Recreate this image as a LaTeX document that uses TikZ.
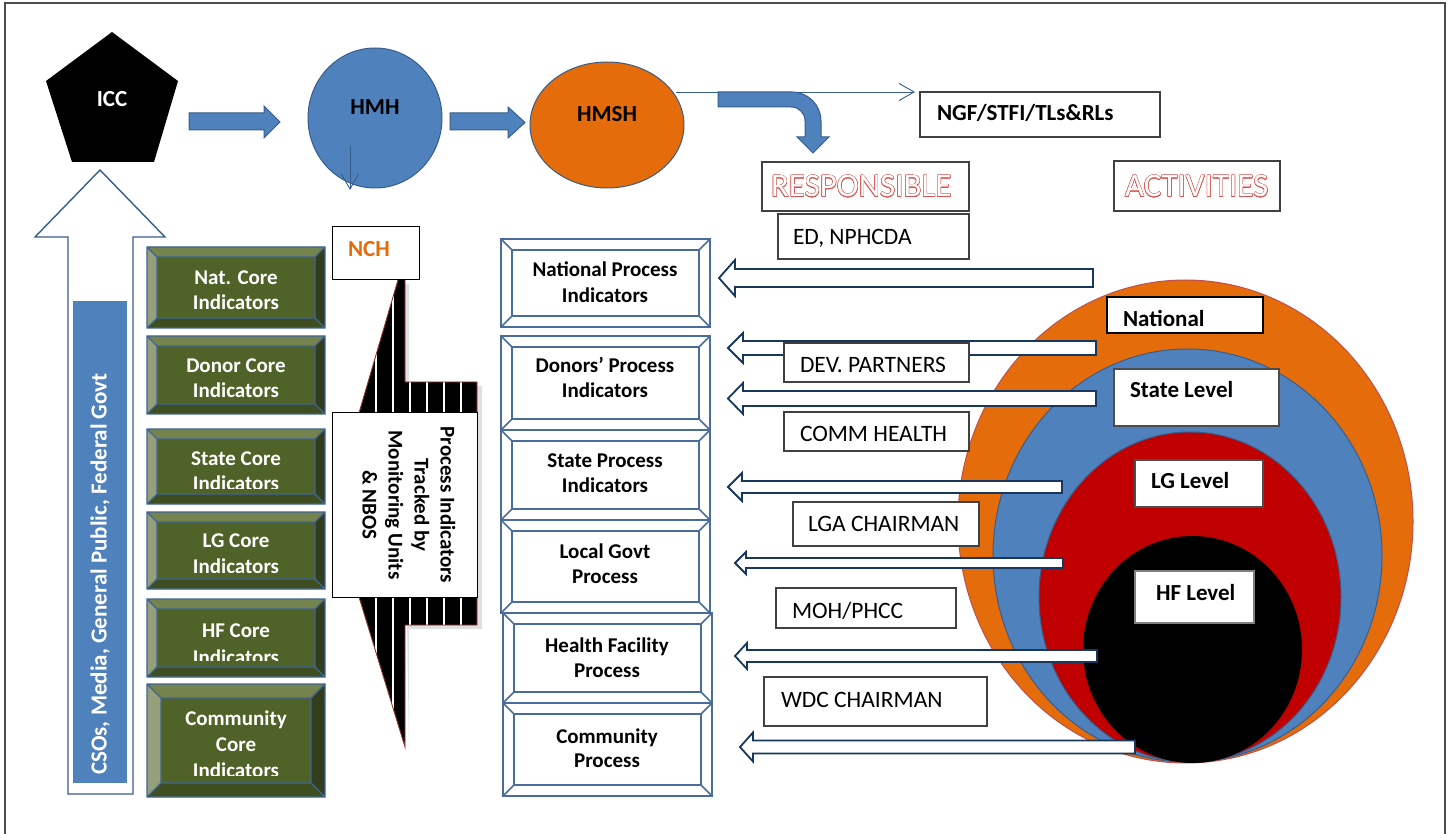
\documentclass[tikz,border=0pt]{standalone}
\usepackage{fontspec}
\setmainfont{Carlito}
\usepackage[copies]{contour}
\usetikzlibrary{arrows.meta,shapes.geometric}
\definecolor{mblue}{HTML}{4F81BD}
\definecolor{mbluedk}{HTML}{385D8A}
\definecolor{morange}{HTML}{E46C0A}
\definecolor{mred}{HTML}{C00000}
\definecolor{navy}{HTML}{17375E}
\definecolor{gmain}{HTML}{4F6228}
\definecolor{gtop}{HTML}{75834F}
\definecolor{gleft}{HTML}{959F79}
\definecolor{gright}{HTML}{323E1B}
\definecolor{gbot}{HTML}{3F4E21}
\definecolor{gline}{HTML}{3F6496}
\definecolor{pline}{HTML}{4A6C9C}
\definecolor{outred}{HTML}{D9534F}
\definecolor{calred}{HTML}{943634}
\definecolor{ringred}{HTML}{C0504D}
\contourlength{0.45pt}
\newcommand\gbev[5]{%
 \fill[gmain] (#1,#2) rectangle (#3,#4);
 \fill[gtop] (#1,#2) -- (#3,#2) -- ({#3-#5},{#2+#5}) -- ({#1+#5},{#2+#5}) -- cycle;
 \fill[gleft] (#1,#2) -- ({#1+#5},{#2+#5}) -- ({#1+#5},{#4-#5}) -- (#1,#4) -- cycle;
 \fill[gright] (#3,#2) -- (#3,#4) -- ({#3-#5},{#4-#5}) -- ({#3-#5},{#2+#5}) -- cycle;
 \fill[gbot] (#1,#4) -- (#3,#4) -- ({#3-#5},{#4-#5}) -- ({#1+#5},{#4-#5}) -- cycle;
 \draw[gline, line width=1.3pt] (#1,#2) rectangle (#3,#4) ({#1+#5},{#2+#5}) rectangle ({#3-#5},{#4-#5})
   (#1,#2) -- ({#1+#5},{#2+#5}) (#3,#2) -- ({#3-#5},{#2+#5}) (#1,#4) -- ({#1+#5},{#4-#5}) (#3,#4) -- ({#3-#5},{#4-#5});
}
\newcommand\pbev[5]{%
 \draw[pline, fill=white, line width=1.6pt] (#1,#2) rectangle (#3,#4) ({#1+#5},{#2+#5}) rectangle ({#3-#5},{#4-#5})
   (#1,#2) -- ({#1+#5},{#2+#5}) (#3,#2) -- ({#3-#5},{#2+#5}) (#1,#4) -- ({#1+#5},{#4-#5}) (#3,#4) -- ({#3-#5},{#4-#5});
}
% tip x, tip y, right x, half body, half head, head length
\newcommand\larrow[6]{%
 \filldraw[hollow] (#1,#2) -- ({#1+#6},{#2-#5}) -- ({#1+#6},{#2-#4}) -- (#3,{#2-#4}) -- (#3,{#2+#4}) -- ({#1+#6},{#2+#4}) -- ({#1+#6},{#2+#5}) -- cycle;
}
\begin{document}
\begin{tikzpicture}[x=1pt,y=-1pt,
  every node/.style={inner sep=0pt, outer sep=0pt},
  bluearrow/.style={fill=mblue, draw=mbluedk, line width=1pt},
  hollow/.style={fill=white, draw=navy, line width=1.8pt},
  lblbox/.style={draw=black!75, fill=white, line width=1.2pt},
  bt/.style={font=\bfseries\fontsize{21}{25}\selectfont},
  ht/.style={font=\bfseries\fontsize{23}{27}\selectfont},
  lt/.style={font=\fontsize{23.5}{27}\selectfont},
  thinarr/.style={draw=mbluedk, line width=0.9pt, -{Straight Barb[length=15pt,width=17pt]}},
  ring/.style={ellipse, draw=#1, line width=1pt}]
\useasboundingbox (0,0) rectangle (1452,834);
\fill[white] (0,0) rectangle (1452,834);
\draw[black!70, line width=1.6pt] (5,3) rectangle (1445,860);

% ---- top row
\fill[black] (112,32) -- (178,81) -- (154,162) -- (72,162) -- (46,81) -- cycle;
\node[ht, text=white, anchor=base] (icc) at (112,107) {ICC};
\filldraw[bluearrow] (189,113) -- (264,113) -- (264,106) -- (280,122) -- (264,138) -- (264,130) -- (189,130) -- cycle;
\node[ring=mbluedk, fill=mblue, minimum width=134, minimum height=140] (hmh) at (375,118) {};
\node[ht, anchor=base] (hmht) at (375,115) {HMH};
\coordinate (hmhA) at (350,146);
\coordinate (hmhB) at (350,190);
\draw[thinarr] (hmhA) -- (hmhB);
\filldraw[bluearrow] (450,113) -- (508,113) -- (508,107) -- (525,122.5) -- (508,138) -- (508,130) -- (450,130) -- cycle;
\node[ring=mbluedk, fill=morange, minimum width=154, minimum height=126] (hmsh) at (607,125) {};
\node[ht, anchor=base] (hmsht) at (607,122) {HMSH};
\coordinate (hsout) at (676,92);
\coordinate (ngfin) at (915,92);
\draw[thinarr] (hsout) -- (ngfin);
\filldraw[bluearrow] (718,92) -- (792,92) .. controls (808,92) and (821,105) .. (821,121) -- (821,137) -- (829,137) -- (813,153) -- (797,137) -- (805,137) -- (805,121) .. controls (805,113) and (799,107) .. (791,107) -- (718,107) -- cycle;
\node[lblbox, minimum width=240, minimum height=45] (ngf) at (1040,114.5) {};
\node[ht, anchor=base west] (ngft) at (937,121) {NGF/STFI/TLs\&RLs};
\node[lblbox, minimum width=207, minimum height=49] (resp) at (865.5,186.5) {};
\node[font=\fontsize{33}{36}\selectfont, anchor=base west] (respt) at (771,197) {\contour{outred}{\textcolor{white}{RESPONSIBLE}}};
\node[lblbox, minimum width=166, minimum height=50] (act) at (1197,186) {};
\node[font=\fontsize{33}{36}\selectfont, anchor=base west] (actt) at (1125,197) {\contour{outred}{\textcolor{white}{ACTIVITIES}}};
\node[lblbox, minimum width=191, minimum height=45] (ed) at (873.5,236.5) {};
\node[lt, anchor=base west] (edt) at (793,245) {ED, NPHCDA};

% ---- left hollow arrow
\filldraw[fill=white, draw=mbluedk, line width=1.4pt] (100,170) -- (165,237) -- (133,237) -- (133,794) -- (68,794) -- (68,237) -- (35,237) -- cycle;
\fill[mblue] (73,301) rectangle (127,783);
\node[font=\bfseries\fontsize{23}{27}\selectfont, text=white, rotate=90] (cso) at (100,574) {CSOs, Media, General Public, Federal Govt};

% ---- green core indicator boxes
\gbev{147}{247}{325}{328}{10}
\node[bt, text=white, anchor=base] (nc1) at (236,285) {Nat. Core};
\node[bt, text=white, anchor=base] (nc2) at (236,310) {Indicators};
\gbev{147}{336}{325}{414}{10}
\node[bt, text=white, anchor=base] (dc1) at (236,373) {Donor Core};
\node[bt, text=white, anchor=base] (dc2) at (236,398) {Indicators};
\gbev{147}{429}{325}{504}{10}
\begin{scope}
\clip (147,429) rectangle (325,488);
\node[bt, text=white, anchor=base] (sc1) at (236,465) {State Core};
\node[bt, text=white, anchor=base] (sc2) at (236,490) {Indicators};
\end{scope}
\gbev{147}{512}{325}{589}{10}
\begin{scope}
\clip (147,512) rectangle (325,572);
\node[bt, text=white, anchor=base] (lc1) at (236,547) {LG Core};
\node[bt, text=white, anchor=base] (lc2) at (236,573) {Indicators};
\end{scope}
\gbev{147}{599}{325}{677}{10}
\begin{scope}
\clip (147,599) rectangle (325,660);
\node[bt, text=white, anchor=base] (hc1) at (236,637) {HF Core};
\node[bt, text=white, anchor=base] (hc2) at (236,664) {Indicators};
\end{scope}
\gbev{147}{684}{325}{797}{14}
\begin{scope}
\clip (147,684) rectangle (325,775);
\node[bt, text=white, anchor=base] (cc1) at (236,725) {Community};
\node[bt, text=white, anchor=base] (cc2) at (236,751) {Core};
\node[bt, text=white, anchor=base] (cc3) at (236,777) {Indicators};
\end{scope}

% ---- callout from NCH
\fill[black, opacity=0.12] (402,284) -- (409,284) -- (409,386) -- (482,386) -- (482,629) -- (409,629) -- (409,751) -- cycle;
\begin{scope}
\clip (398,280) -- (405,280) -- (405,382) -- (477,382) -- (477,625) -- (405,625) -- (405,747) -- (359,597) -- (359,413) -- cycle;
\fill[black] (350,270) rectangle (480,750);
\foreach \sx in {376,393,410,427,444,461} \fill[white] ({\sx-1.3},270) rectangle ({\sx+1.3},750);
\end{scope}
\draw[calred, line width=0.9pt] (398,280) -- (359,413) (405,280) -- (405,382) -- (477,382) -- (477,413) (477,597) -- (477,625) -- (405,625) -- (405,747) -- (359,597);
\node[draw=black, fill=white, line width=1pt, minimum width=145, minimum height=184] (calbox) at (404.5,505) {};
\node[font=\bfseries\fontsize{21}{26}\selectfont, align=center, rotate=-90] (calt) at (409,505) {Process Indicators\\Tracked by\\Monitoring Units\\\& NBOS};
\node[draw=black, fill=white, line width=1pt, minimum width=87, minimum height=53] (nch) at (375.5,253.5) {};
\node[ht, text=morange, anchor=base west] (ncht) at (348,257) {NCH};

% ---- process boxes
\pbev{501}{239}{710}{327}{11}
\node[bt, anchor=base] (np1) at (605,277) {National Process};
\node[bt, anchor=base] (np2) at (605,303) {Indicators};
\pbev{501}{336}{710}{430}{11}
\node[bt, anchor=base] (dp1) at (605,373) {Donors’ Process};
\node[bt, anchor=base] (dp2) at (605,398) {Indicators};
\pbev{501}{430}{710}{520}{11}
\node[bt, anchor=base] (sp1) at (605,467) {State Process};
\node[bt, anchor=base] (sp2) at (605,492) {Indicators};
\pbev{501}{520}{710}{613}{11}
\node[bt, anchor=base] (lp1) at (605,558) {Local Govt};
\node[bt, anchor=base] (lp2) at (605,583) {Process};
\pbev{503}{613}{712}{703}{11}
\node[bt, anchor=base] (hp1) at (607,652) {Health Facility};
\node[bt, anchor=base] (hp2) at (607,677) {Process};
\pbev{503}{703}{712}{796}{11}
\node[bt, anchor=base] (cp1) at (607,743) {Community};
\node[bt, anchor=base] (cp2) at (607,767) {Process};

% ---- nested circles
\node[ring=ringred, fill=morange, minimum width=455, minimum height=483] (c1) at (1185.5,521.5) {};
\node[ring=mbluedk, fill=mblue, minimum width=389, minimum height=413] (c2) at (1187.5,555.5) {};
\node[ring=mbluedk, fill=mred, minimum width=302, minimum height=330] (c3) at (1190,597) {};
\node[ellipse, fill=black, minimum width=219, minimum height=227] (c4) at (1192.5,649.5) {};

\node[lblbox, draw=black, minimum width=156, minimum height=36] (lvn) at (1185,315) {};
\node[ht, anchor=base west] (lvnt) at (1123,326.5) {National};
\node[lblbox, draw=black!70, minimum width=165, minimum height=57] (lvs) at (1196.5,397.5) {};
\node[ht, anchor=base west] (lvst) at (1130,398) {State Level};
\node[lblbox, draw=black!70, minimum width=128, minimum height=47] (lvl) at (1199,483.5) {};
\node[ht, anchor=base west] (lvlt) at (1151,488) {LG Level};
\node[lblbox, draw=black!50, minimum width=119, minimum height=52] (lvh) at (1194.5,597) {};
\node[ht, anchor=base west] (lvht) at (1156,600) {HF Level};

% ---- hollow arrows towards process boxes
\larrow{719}{278}{1093}{9}{18}{16}
\larrow{728}{348}{1096}{7}{15}{15}
\larrow{728}{398.5}{1096}{7.5}{15.5}{15}
\larrow{728}{487}{1062}{6}{14}{14}
\larrow{735}{563}{1063}{5}{11}{11}
\larrow{735}{656}{1097}{6}{13}{12}
\larrow{740}{747}{1135}{6.5}{14.5}{13}

% ---- responsible labels
\node[lblbox, minimum width=185, minimum height=39] (dev) at (876.5,362.5) {};
\node[lt, anchor=base west] (devt) at (800,373) {DEV. PARTNERS};
\node[lblbox, minimum width=185, minimum height=39] (comm) at (876.5,431.5) {};
\node[lt, anchor=base west] (commt) at (800,442) {COMM HEALTH};
\node[lblbox, minimum width=186, minimum height=44] (lga) at (886,524) {};
\node[lt, anchor=base west] (lgat) at (808,531) {LGA CHAIRMAN};
\node[lblbox, minimum width=180, minimum height=40] (moh) at (866,608) {};
\node[lt, anchor=base west] (moht) at (792,618) {MOH/PHCC};
\node[lblbox, minimum width=223, minimum height=49] (wdc) at (875.5,701.5) {};
\node[lt, anchor=base west] (wdct) at (781,707) {WDC CHAIRMAN};
\end{tikzpicture}
\end{document}
